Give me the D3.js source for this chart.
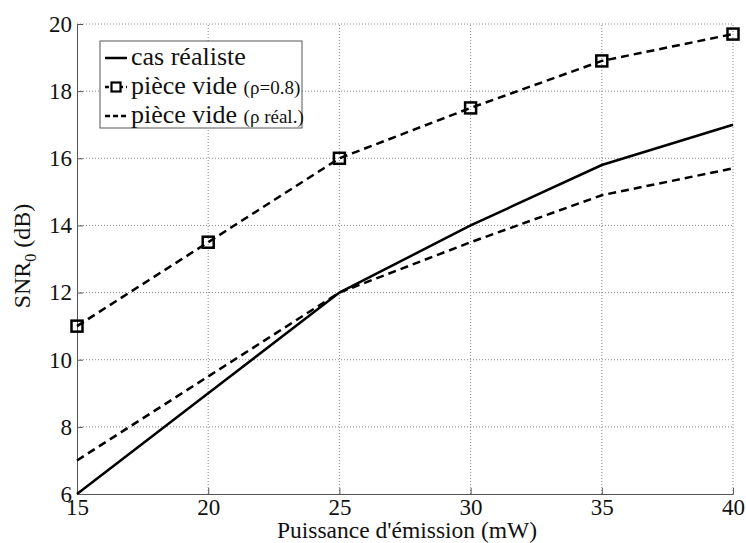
<!DOCTYPE html>
<html>
<head>
<meta charset="utf-8">
<script src="https://cdn.jsdelivr.net/npm/d3@7"></script>
<style>
  body { margin: 0; background: #fff; }
</style>
</head>
<body>
<div class="chart"></div>
<script>
// power values (mW)
const puissance = [15, 20, 25, 30, 35, 40];
const casRealiste = [6, 9, 12, 14, 15.8, 17];
const pieceVide08 = [11, 13.5, 16, 17.5, 18.9, 19.7];
const pieceVideReal = [7, 9.5, 12, 13.5, 14.9, 15.7];
const xTicks = [15, 20, 25, 30, 35, 40];
const yTicks = [6, 8, 10, 12, 14, 16, 18, 20];

const serif = "'Liberation Serif'";
const width = 746, height = 543;
const margin = { top: 24, right: 13, bottom: 49, left: 77 };

const svg = d3.select(".chart")
  .append("svg")
  .attr("width", width)
  .attr("height", height);

const x = d3.scaleLinear()
  .domain([15, 40])
  .range([margin.left, width - margin.right]);

const y = d3.scaleLinear()
  .domain([6, 20])
  .range([height - margin.bottom, margin.top]);

// grid
svg.append("g")
  .selectAll("line")
  .data(xTicks.slice(1))
  .join("line")
  .attr("x1", d => x(d)).attr("x2", d => x(d))
  .attr("y1", y(6)).attr("y2", y(20))
  .attr("stroke", "#888")
  .attr("stroke-dasharray", "1 2");

svg.append("g")
  .selectAll("line")
  .data(yTicks.slice(1))
  .join("line")
  .attr("x1", x(15)).attr("x2", x(40))
  .attr("y1", d => y(d)).attr("y2", d => y(d))
  .attr("stroke", "#888")
  .attr("stroke-dasharray", "1 2");

// axes
const xAxis = g => g
  .attr("transform", `translate(0,${height - margin.bottom})`)
  .call(d3.axisBottom(x).tickValues(xTicks).tickSizeInner(-6).tickSizeOuter(0).tickPadding(5))
  .call(g => g.selectAll(".domain, line").attr("stroke", "#555"))
  .call(g => g.selectAll("text").attr("fill", "#111")
    .style("font-family", serif).style("font-size", "23px"));

const yAxis = g => g
  .attr("transform", `translate(${margin.left},0)`)
  .call(d3.axisLeft(y).tickValues(yTicks).tickSizeInner(-6).tickSizeOuter(0).tickPadding(5))
  .call(g => g.selectAll(".domain, line").attr("stroke", "#555"))
  .call(g => g.selectAll("text").attr("fill", "#111")
    .style("font-family", serif).style("font-size", "23px"));

svg.append("g").call(xAxis);
svg.append("g").call(yAxis);

// axis titles
svg.append("text")
  .attr("x", (x(15) + x(40)) / 2 + 2)
  .attr("y", 538)
  .attr("text-anchor", "middle")
  .attr("fill", "#111")
  .style("font-family", serif).style("font-size", "23.5px")
  .text("Puissance d'émission (mW)");

const yl = svg.append("text")
  .attr("transform", `translate(30,${(y(6) + y(20)) / 2 - 3}) rotate(-90)`)
  .attr("text-anchor", "middle")
  .attr("fill", "#111")
  .style("font-family", serif).style("font-size", "24px");
yl.append("tspan").text("SNR");
yl.append("tspan").style("font-size", "16px").attr("dy", 6).text("0");
yl.append("tspan").attr("dy", -6).text(" (dB)");

const line = d3.line()
  .x((d, i) => x(puissance[i]))
  .y(d => y(d));

svg.append("path")
  .datum(casRealiste)
  .attr("fill", "none")
  .attr("stroke", "#000")
  .attr("stroke-width", 2.5)
  .attr("d", line);

svg.append("path")
  .datum(pieceVideReal)
  .attr("fill", "none")
  .attr("stroke", "#000")
  .attr("stroke-width", 2.5)
  .attr("stroke-dasharray", "8 5")
  .attr("d", line);

svg.append("path")
  .datum(pieceVide08)
  .attr("fill", "none")
  .attr("stroke", "#000")
  .attr("stroke-width", 2.5)
  .attr("stroke-dasharray", "8 5")
  .attr("d", line);

svg.append("g")
  .selectAll("rect")
  .data(pieceVide08)
  .join("rect")
  .attr("x", (d, i) => x(puissance[i]) - 5.5)
  .attr("y", d => y(d) - 5.5)
  .attr("width", 11)
  .attr("height", 11)
  .attr("fill", "none")
  .attr("stroke", "#000")
  .attr("stroke-width", 2.5);

// legend
const legend = svg.append("g").attr("transform", "translate(100,41)");
legend.append("rect")
  .attr("width", 202)
  .attr("height", 87)
  .attr("fill", "#fff")
  .attr("stroke", "#555");

const rowY = [17, 46, 75];
legend.append("line")
  .attr("x1", 5).attr("x2", 27).attr("y1", rowY[0]).attr("y2", rowY[0])
  .attr("stroke", "#000").attr("stroke-width", 2.5);
legend.append("line")
  .attr("x1", 5).attr("x2", 27).attr("y1", rowY[1]).attr("y2", rowY[1])
  .attr("stroke", "#000").attr("stroke-width", 2.5).attr("stroke-dasharray", "4 3");
legend.append("rect")
  .attr("x", 11.5).attr("y", rowY[1] - 4.5).attr("width", 9).attr("height", 9)
  .attr("fill", "#fff").attr("stroke", "#000").attr("stroke-width", 2.2);
legend.append("line")
  .attr("x1", 5).attr("x2", 27).attr("y1", rowY[2]).attr("y2", rowY[2])
  .attr("stroke", "#000").attr("stroke-width", 2.5).attr("stroke-dasharray", "5 3");

const legendText = (i) => legend.append("text")
  .attr("x", 31).attr("y", rowY[i] + 7)
  .attr("fill", "#111")
  .style("font-family", serif).style("font-size", "26px");

legendText(0).text("cas réaliste");
const t2 = legendText(1);
t2.append("tspan").text("pièce vide ");
t2.append("tspan").style("font-size", "19px").text("(ρ=0.8)");
const t3 = legendText(2);
t3.append("tspan").text("pièce vide ");
t3.append("tspan").style("font-size", "19px").text("(ρ réal.)");
</script>
</body>
</html>
